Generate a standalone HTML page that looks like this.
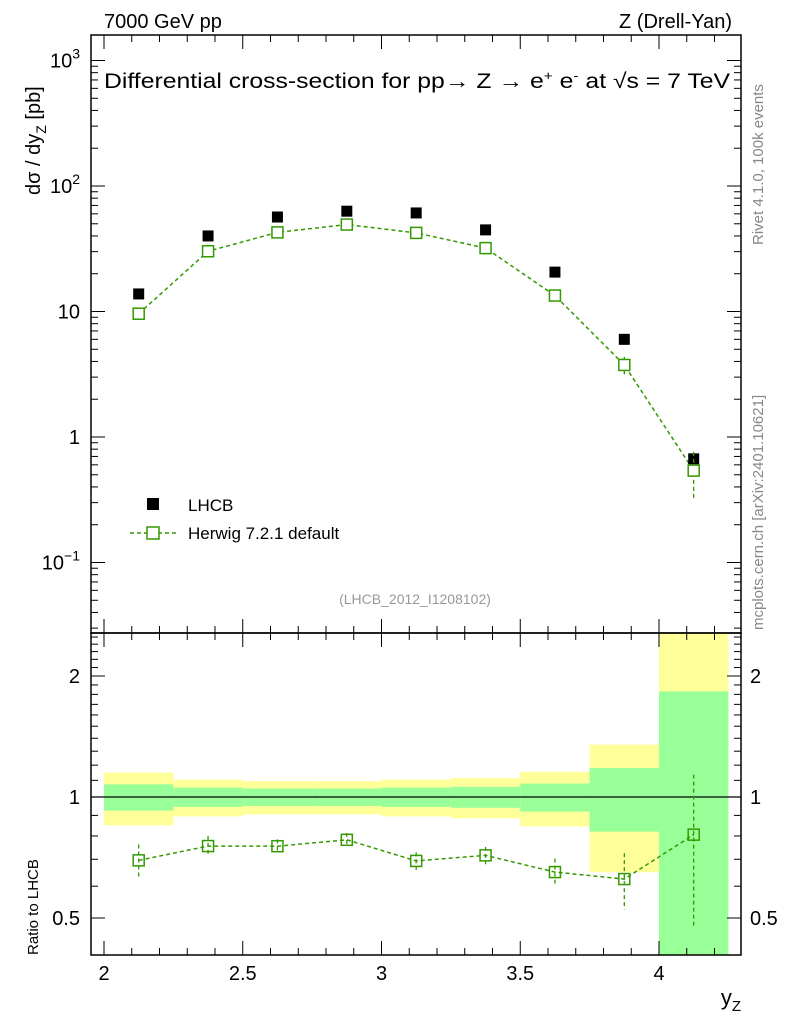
<!DOCTYPE html>
<html><head><meta charset="utf-8"><style>
body{margin:0;background:#fff;}
svg{display:block;font-family:"Liberation Sans",sans-serif;}
</style></head><body>
<svg id="c" width="786" height="1024" viewBox="0 0 786 1024">
<rect width="786" height="1024" fill="#fff"/>
<text x="104" y="28" font-size="20">7000 GeV pp</text>
<text x="732" y="28" font-size="20" text-anchor="end">Z (Drell-Yan)</text>
<g id="bands"></g>
<g id="marks"></g>
<g id="axes"></g>
<text x="104" y="88" font-size="21" textLength="626" lengthAdjust="spacingAndGlyphs">Differential cross-section for pp→  Z →  e<tspan dy="-8" font-size="13">+</tspan><tspan dy="8"> e</tspan><tspan dy="-8" font-size="13">-</tspan><tspan dy="8"> at √s = 7 TeV</tspan></text>
<text x="415" y="604" font-size="14" fill="#999" text-anchor="middle">(LHCB_2012_I1208102)</text>
<text transform="translate(40,195) rotate(-90)" font-size="20">dσ / dy<tspan dy="6" font-size="14">Z</tspan><tspan dy="-6"> [pb]</tspan></text>
<text transform="translate(38,955) rotate(-90)" font-size="15">Ratio to LHCB</text>
<text x="741" y="1005" font-size="22" text-anchor="end">y<tspan dy="6" font-size="15">Z</tspan></text>
<text transform="translate(763,245) rotate(-90)" font-size="15" fill="#888">Rivet 4.1.0,  100k events</text>
<text transform="translate(763,630) rotate(-90)" font-size="15" fill="#888">mcplots.cern.ch [arXiv:2401.10621]</text>
<g>
<rect x="147" y="498" width="12" height="12" fill="#000"/>
<text x="188" y="511" font-size="17">LHCB</text>
<line x1="130" y1="533" x2="176" y2="533" stroke="#339900" stroke-width="1.5" stroke-dasharray="4,3"/>
<rect x="147" y="527" width="12" height="12" fill="#fff" stroke="#339900" stroke-width="1.5"/>
<text x="188" y="539" font-size="17">Herwig 7.2.1 default</text>
</g>
</svg>
<script>
const binEdges=[2,2.25,2.5,2.75,3,3.25,3.5,3.75,4,4.25];
const dataVals=[13.8,40,56.6,63,61,44.7,20.6,6.0,0.67];
const mcVals=[9.6,30.2,42.7,49.3,42.3,32.0,13.4,3.75,0.54];
const mcRelErr=[0.095,0.06,0.04,0.04,0.05,0.05,0.08,0.16,0.41];
const dataTotErr=[0.15,0.105,0.095,0.095,0.105,0.115,0.155,0.35,1.8];
const dataStatErr=[0.075,0.055,0.05,0.05,0.055,0.06,0.08,0.18,0.83];
const xTicks=[2,2.5,3,3.5,4];
const yTickLabels=["10<tspan dy='-9' font-size='14'>−1</tspan>","1","10","10<tspan dy='-9' font-size='14'>2</tspan>","10<tspan dy='-9' font-size='14'>3</tspan>"];
const yTickVals=[0.1,1,10,100,1000];
const rTicks=[0.5,1,2];

const L=91,R=741,T=35,M=633,B=955;
const X=v=>104+(v-2)*277.5;
const Y=v=>437-Math.log10(v)*125.5;
const RY=v=>797-Math.log10(v)*402;
const NS="http://www.w3.org/2000/svg";
function mk(p,tag,a){const e=document.createElementNS(NS,tag);for(const k in a)e.setAttribute(k,a[k]);p.appendChild(e);return e;}
const bands=document.getElementById('bands'),marks=document.getElementById('marks'),axes=document.getElementById('axes');
const clip=v=>Math.max(M,Math.min(B,v));
for(let i=0;i<dataVals.length;i++){
 const x0=X(binEdges[i]),x1=X(binEdges[i+1]);
 const yt=clip(RY(1+dataTotErr[i])),yb=(1-dataTotErr[i])>0?clip(RY(1-dataTotErr[i])):B;
 const r1=mk(bands,'rect',{x:x0,y:yt,width:x1-x0,height:yb-yt,fill:'#ffff99'});
 
 
 const st=clip(RY(1+dataStatErr[i])),sb=(1-dataStatErr[i])>0?clip(RY(1-dataStatErr[i])):B;
 const r2=mk(bands,'rect',{x:x0,y:st,width:x1-x0,height:sb-st,fill:'#99ff99'});
 
 
}
mk(bands,'line',{x1:L,x2:R,y1:RY(1),y2:RY(1),stroke:'#000','stroke-width':1.3});
const cx=i=>X((binEdges[i]+binEdges[i+1])/2);
let pm='',pr='';
for(let i=0;i<mcVals.length;i++){pm+=(i?'L':'M')+cx(i)+','+Y(mcVals[i]);pr+=(i?'L':'M')+cx(i)+','+RY(mcVals[i]/dataVals[i]);}
mk(marks,'path',{d:pm,fill:'none',stroke:'#339900','stroke-width':1.5,'stroke-dasharray':'4,3'});
mk(marks,'path',{d:pr,fill:'none',stroke:'#339900','stroke-width':1.5,'stroke-dasharray':'4,3'});
for(let i=0;i<dataVals.length;i++){
 const x=cx(i),e=mcRelErr[i];
 const d=mk(marks,'rect',{x:x-5.5,y:Y(dataVals[i])-5.5,width:11,height:11,fill:'#000'});
 
 
 const l=mk(marks,'line',{x1:x,x2:x,y1:Y(mcVals[i]*(1+e)),y2:Y(mcVals[i]*(1-e)),stroke:'#339900','stroke-width':1.3,'stroke-dasharray':'4,3'});
 
 
 const m=mk(marks,'rect',{x:x-5.5,y:Y(mcVals[i])-5.5,width:11,height:11,fill:'#fff',stroke:'#339900','stroke-width':1.5});
 
 
 const r=mcVals[i]/dataVals[i];
 const l2=mk(marks,'line',{x1:x,x2:x,y1:RY(r*(1+e)),y2:RY(r*(1-e)),stroke:'#339900','stroke-width':1.3,'stroke-dasharray':'4,3'});
 
 
 const m2=mk(marks,'rect',{x:x-5.5,y:RY(r)-5.5,width:11,height:11,fill:'none',stroke:'#339900','stroke-width':1.5});
 
 
}
mk(axes,'rect',{x:L,y:T,width:R-L,height:M-T,fill:'none',stroke:'#000','stroke-width':1.5});
mk(axes,'rect',{x:L,y:M,width:R-L,height:B-M,fill:'none',stroke:'#000','stroke-width':1.5});
for(let v=2;v<=4.3;v+=0.1){const vv=Math.round(v*10)/10;const maj=Math.abs(vv*2-Math.round(vv*2))<1e-6;const x=X(vv),len=maj?14:7;
 for(const [a,b] of [[T,T+len],[M,M-len],[M,M+len],[B,B-len]])mk(axes,'line',{x1:x,x2:x,y1:a,y2:b,stroke:'#000','stroke-width':1});}
xTicks.forEach(v=>{const t=mk(axes,'text',{x:X(v),y:980,'font-size':20,'text-anchor':'middle'});t.textContent=String(v);
 
 });
for(let d=-2;d<=3;d++)for(let k=1;k<10;k++){const v=k*Math.pow(10,d);const y=Y(v);if(y<T||y>M)continue;const len=k==1?14:7;
 mk(axes,'line',{x1:L,x2:L+len,y1:y,y2:y,stroke:'#000'});mk(axes,'line',{x1:R,x2:R-len,y1:y,y2:y,stroke:'#000'});}
yTickVals.forEach((v,i)=>{const t=mk(axes,'text',{x:80,y:Y(v)+7,'font-size':20,'text-anchor':'end'});t.innerHTML=yTickLabels[i];
 
 });
for(let v=0.4;v<=2.6;v+=0.1){const vv=Math.round(v*10)/10;const y=RY(vv);if(y<M||y>B)continue;const maj=rTicks.includes(vv);const len=maj?14:7;
 mk(axes,'line',{x1:L,x2:L+len,y1:y,y2:y,stroke:'#000'});mk(axes,'line',{x1:R,x2:R-len,y1:y,y2:y,stroke:'#000'});}
rTicks.forEach(v=>{for(const [x,a] of [[80,'end'],[750,'start']]){const t=mk(axes,'text',{x:x,y:RY(v)+7,'font-size':20,'text-anchor':a});t.textContent=String(v);
 
 }});
</script>
</body></html>
